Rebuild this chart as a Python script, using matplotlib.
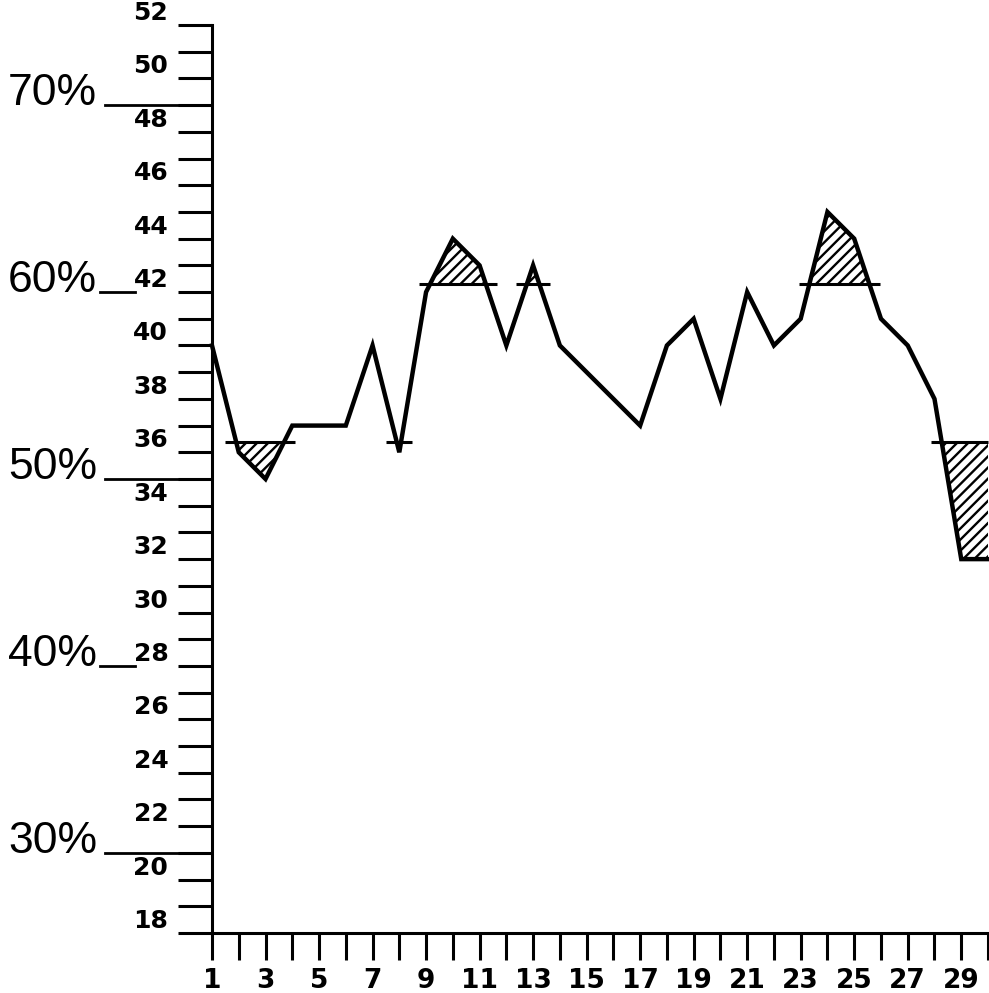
import matplotlib
matplotlib.use("Agg")
import matplotlib.pyplot as plt
import numpy as np
from matplotlib.ticker import MultipleLocator, FuncFormatter
from matplotlib.transforms import blended_transform_factory


# readings per sample
sample_no = list(range(1, 31))
reading = [40, 36, 35, 37, 37, 37, 40, 36, 42, 44, 43, 40, 43, 40, 39,
           38, 37, 40, 41, 38, 42, 40, 41, 45, 44, 41, 40, 38, 32, 32]

# control levels
upper_limit = 42.3
lower_limit = 36.4

# percent scale on the left (100% = 70)
full_scale = 70
pct_marks = [70, 60, 50, 40, 30]

y_min, y_max = 18, 52


def runs_outside(x, y, level, above):
    # x ranges where the curve is beyond the level, with crossing points
    x = np.asarray(x, float)
    y = np.asarray(y, float)
    out = (y > level) if above else (y < level)
    segs = []
    n = len(y)
    i = 0
    while i < n:
        if not out[i]:
            i += 1
            continue
        j = i
        while j + 1 < n and out[j + 1]:
            j += 1
        if i > 0:
            x0 = x[i - 1] + (level - y[i - 1]) / (y[i] - y[i - 1]) * (x[i] - x[i - 1])
        else:
            x0 = x[i]
        if j < n - 1:
            x1 = x[j] + (level - y[j]) / (y[j + 1] - y[j]) * (x[j + 1] - x[j])
        else:
            x1 = x[j]
        segs.append((x0, x1))
        i = j + 1
    return segs


plt.rcParams['hatch.linewidth'] = 1.7

fig = plt.figure(figsize=(9.89, 9.93), dpi=100)
ax = fig.add_axes([212 / 989, 60 / 993, 776 / 989, 908 / 993])

x = np.array(sample_no, float)
y = np.array(reading, float)

# hatched areas beyond the limits
ax.fill_between(x, y, upper_limit, where=y > upper_limit, interpolate=True,
                facecolor='none', edgecolor='black', hatch='///', linewidth=0)
ax.fill_between(x, y, lower_limit, where=y < lower_limit, interpolate=True,
                facecolor='none', edgecolor='black', hatch='///', linewidth=0)

# short limit marks where the curve leaves the band
ext = 0.4
for lvl, above in [(upper_limit, True), (lower_limit, False)]:
    for x0, x1 in runs_outside(x, y, lvl, above):
        ax.plot([max(x0 - ext, x[0]), min(x1 + ext, x[-1])], [lvl, lvl],
                color='black', lw=2.2, solid_capstyle='butt', clip_on=False)

ax.plot(x, y, color='black', lw=3.2, solid_joinstyle='miter', clip_on=False)

ax.set_xlim(x[0], x[-1])
ax.set_ylim(y_min, y_max)

for s in ['top', 'right']:
    ax.spines[s].set_visible(False)
for s in ['left', 'bottom']:
    ax.spines[s].set_linewidth(2.2)

ax.xaxis.set_major_locator(MultipleLocator(1))
ax.yaxis.set_major_locator(MultipleLocator(1))
ax.xaxis.set_major_formatter(FuncFormatter(lambda v, p: f'{int(round(v))}' if int(round(v)) % 2 == 1 else ''))
ax.yaxis.set_major_formatter(FuncFormatter(lambda v, p: f'{int(round(v))}' if int(round(v)) % 2 == 0 else ''))

ax.tick_params(axis='x', direction='out', length=19.5, width=2.2, pad=6, labelsize=19)
ax.tick_params(axis='y', direction='out', length=24.5, width=2.2, pad=7, labelsize=18)
for lbl in ax.get_xticklabels() + ax.get_yticklabels():
    lbl.set_fontweight('bold')
    lbl.set_family('DejaVu Sans')
plt.setp(ax.get_yticklabels(), va='bottom')

# percent scale
trans = blended_transform_factory(ax.transAxes, ax.transData)
for pct in pct_marks:
    lvl = pct / 100 * full_scale
    if float(lvl).is_integer() and int(lvl) % 2 == 0:
        xs = [-0.144, -0.099]
    else:
        xs = [-0.138, 0.0]
    ax.plot(xs, [lvl, lvl], color='black', lw=2.0, transform=trans, clip_on=False)
    ax.text(-0.148, lvl, f'{pct}%', transform=trans, ha='right', va='baseline',
            fontsize=32, family=['Liberation Sans', 'DejaVu Sans'])

fig.savefig('out.png', dpi=100)
